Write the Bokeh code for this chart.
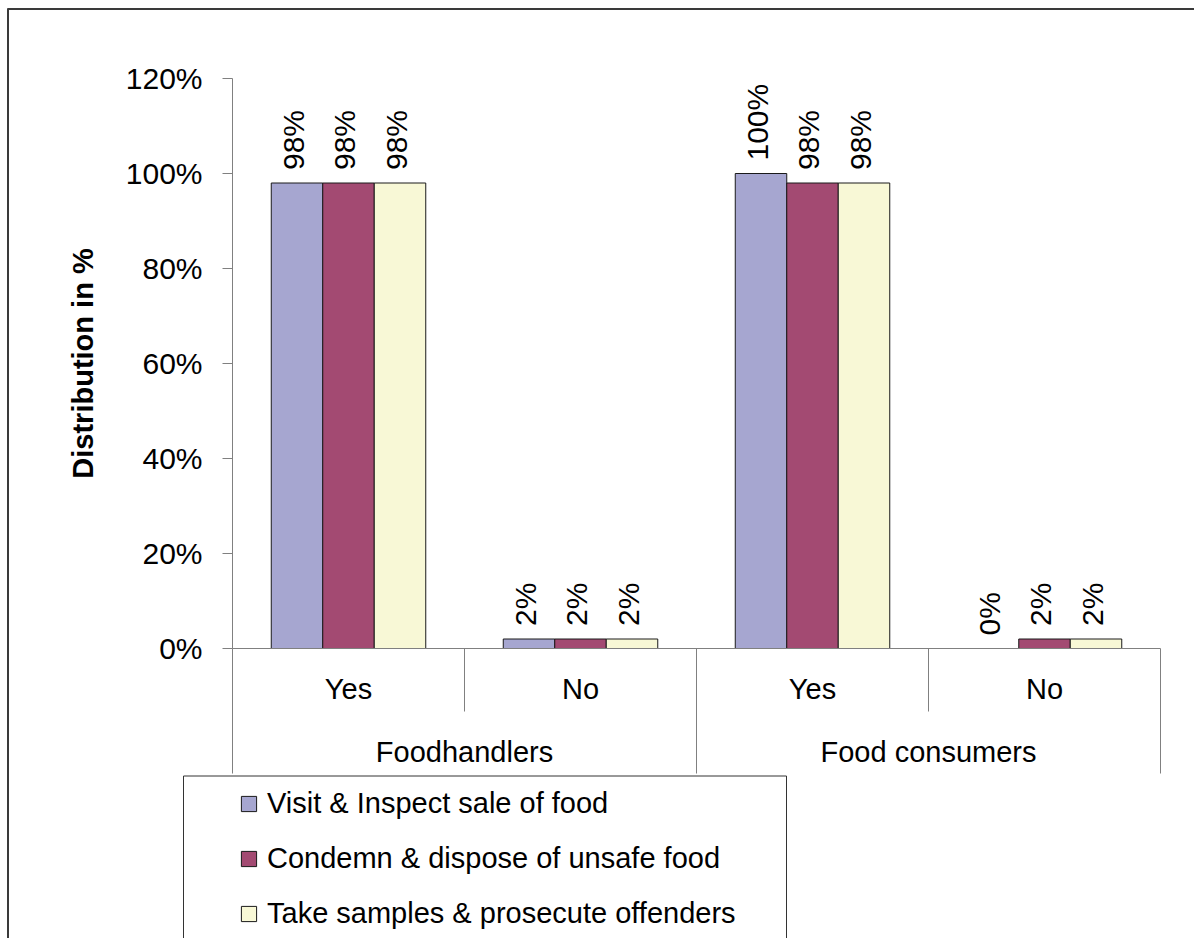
import math

from bokeh.core.properties import value
from bokeh.embed import file_html
from bokeh.models import (ColumnDataSource, FixedTicker, Legend, LegendItem,
                          LinearAxis, NumeralTickFormatter, Range1d)
from bokeh.plotting import figure
from bokeh.resources import INLINE

# ---- data -------------------------------------------------------------
groups = ["Foodhandlers", "Food consumers"]
answers = ["Yes", "No"]
series_names = [
    "Visit & Inspect sale of food",
    "Condemn & dispose of unsafe food",
    "Take samples & prosecute offenders",
]
visit_inspect = [98, 2, 100, 0]      # Foodhandlers Yes/No, Food consumers Yes/No
condemn_dispose = [98, 2, 98, 2]
samples_prosecute = [98, 2, 98, 2]
ytick_values = [0, 20, 40, 60, 80, 100, 120]

series_values = [visit_inspect, condemn_dispose, samples_prosecute]
series_colors = ["#A6A6D0", "#A34A72", "#F8F8D6"]

# ---- canvas / scale ---------------------------------------------------
W, H = 1194, 938
X0_PX, UNIT_X = 232, 232          # left of first category, px per category
Y0_PX, UNIT_Y = 648, 475          # baseline (0 %), px per 100 %

def dx(px):  # canvas x (px) -> data x
    return (px - X0_PX) / UNIT_X

def dy(py):  # canvas y (px) -> data y
    return (Y0_PX - py) / UNIT_Y

FONT = value("Liberation Sans")
GRAY = "#808080"

p = figure(width=W, height=H, title=None, toolbar_location=None,
           output_backend="svg", x_axis_type=None, y_axis_type=None,
           x_range=Range1d(dx(0), dx(W)), y_range=Range1d(dy(H), dy(0)),
           min_border=0, outline_line_color=None,
           background_fill_color="white", border_fill_color="white")

# ---- y axis ------------------------------------------------------------
n_cat = len(groups) * len(answers)
axis_bottom = dy(773)
y_top = max(ytick_values) / 100
yaxis = LinearAxis(fixed_location=0, bounds=(0, y_top))
yaxis.ticker = FixedTicker(ticks=[v / 100 for v in ytick_values])
yaxis.formatter = NumeralTickFormatter(format="0%")
yaxis.axis_line_color = GRAY
yaxis.major_tick_line_color = GRAY
yaxis.major_tick_out = 10
yaxis.major_tick_in = 0
yaxis.minor_tick_line_color = None
yaxis.major_label_text_font = "Liberation Sans"
yaxis.major_label_text_font_size = "30px"
yaxis.major_label_text_color = "black"
yaxis.major_label_standoff = 20
yaxis.axis_label = "Distribution in %"
yaxis.axis_label_text_font = "Liberation Sans"
yaxis.axis_label_text_font_size = "29px"
yaxis.axis_label_text_font_style = "bold"
yaxis.axis_label_text_color = "black"
yaxis.axis_label_standoff = 24
p.add_layout(yaxis, "left")

# ---- bars ---------------------------------------------------------------
bar_w = 51.5 / UNIT_X
centers = [i + 0.5 for i in range(n_cat)]
bar_renderers = []
for k, (name, vals, col) in enumerate(zip(series_names, series_values, series_colors)):
    xs = [c + (k - 1) * bar_w for c in centers]
    src = ColumnDataSource(dict(
        x=xs,
        top=[v / 100 for v in vals],
        label_y=[v / 100 + 13 / UNIT_Y for v in vals],
        text=[f"{v}%" for v in vals],
    ))
    r = p.vbar(x="x", top="top", bottom=0, width=bar_w, source=src,
               fill_color=col, line_color="#1a1a1a", line_width=1)
    bar_renderers.append(r)
    p.text(x="x", y="label_y", text="text", source=src, angle=math.pi / 2,
           x_offset=-4, text_align="left", text_baseline="middle",
           text_font=FONT, text_font_size="30px", text_color="black")

# ---- category axis (two levels) ----------------------------------------
p.segment(x0=[0], y0=[0], x1=[n_cat], y1=[0], line_color=GRAY, line_width=1)
inner_sep = [i for i in range(1, n_cat) if i % len(answers)]
outer_sep = [i for i in range(0, n_cat + 1) if i % len(answers) == 0]
p.segment(x0=inner_sep, y0=[0] * len(inner_sep), x1=inner_sep,
          y1=[dy(711)] * len(inner_sep), line_color=GRAY, line_width=1)
p.segment(x0=outer_sep, y0=[0] * len(outer_sep), x1=outer_sep,
          y1=[axis_bottom] * len(outer_sep), line_color=GRAY, line_width=1)

inner_labels = [a for g in groups for a in answers]
p.text(x=centers, y=[dy(688)] * n_cat, text=inner_labels,
       text_align="center", text_baseline="middle",
       text_font=FONT, text_font_size="29px", text_color="black")
group_x = [len(answers) * (j + 0.5) for j in range(len(groups))]
p.text(x=group_x, y=[dy(751)] * len(groups), text=groups,
       text_align="center", text_baseline="middle",
       text_font=FONT, text_font_size="29px", text_color="black")

# ---- chart border (top and left edges) ---------------------------------
p.segment(x0=[dx(7), dx(7.5)], y0=[dy(8.5), dy(8)], x1=[dx(W), dx(7.5)],
          y1=[dy(8.5), dy(H)], line_color="#3a3a3a", line_width=2)

# ---- legend ------------------------------------------------------------
p.quad(left=[dx(183)], right=[dx(786)], top=[dy(775.5)], bottom=[dy(H + 20)],
       fill_color="white", line_color="#333333", line_width=1)
legend = Legend(
    items=[LegendItem(label=n, renderers=[r]) for n, r in zip(series_names, bar_renderers)],
    location=(239, 6), orientation="vertical",
    glyph_width=19, glyph_height=19, label_height=38, spacing=17,
    label_standoff=9, padding=0, margin=0,
    label_text_font="Liberation Sans", label_text_font_size="29px",
    label_text_color="black",
    border_line_color=None, background_fill_alpha=0,
)
p.add_layout(legend)

open("out.html", "w").write(file_html(p, INLINE))
